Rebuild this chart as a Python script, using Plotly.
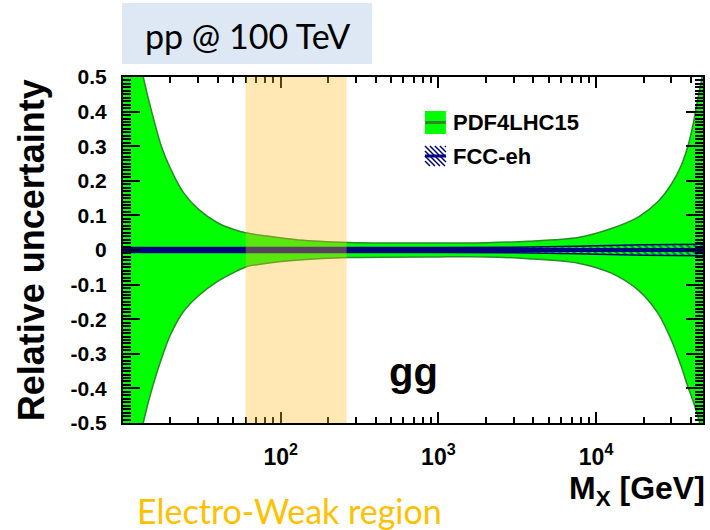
import plotly.graph_objects as go

# ---------------- data ----------------
mass = [10, 11.5, 12.5, 13.6, 15.3, 17.5, 20, 24, 30, 40, 50, 60, 80, 130, 270, 1000, 2000,
        3700, 7700, 12500, 18500, 24700, 30000, 34700, 38200, 41100, 44300, 47000, 50000]
pdf_up = [0.85, 0.66, 0.575, 0.49, 0.395, 0.30, 0.235, 0.168, 0.118, 0.078,
          0.060, 0.050, 0.041, 0.029, 0.022, 0.020, 0.021, 0.025, 0.036, 0.062,
          0.095, 0.14, 0.19, 0.245, 0.30, 0.36, 0.44, 0.50, 0.58]
pdf_lo = [-0.85, -0.66, -0.575, -0.49, -0.40, -0.315, -0.245, -0.180, -0.133, -0.090,
          -0.066, -0.049, -0.039, -0.029, -0.022, -0.020, -0.020, -0.025, -0.038, -0.067,
          -0.116, -0.183, -0.26, -0.337, -0.395, -0.435, -0.482, -0.53, -0.60]

fcc_mass = [10, 100, 1000, 3000, 6000, 10000, 20000, 50000]
fcc_err = [0.007, 0.007, 0.007, 0.008, 0.010, 0.012, 0.015, 0.017]
fcc_central = [0.0, 0.0, 0.0, 0.0, 0.0, 0.0, 0.0, 0.0]

ew_region = [60, 262]

x_tickvals = [100, 1000, 10000]
x_ticktext = ["10<sup>2</sup>", "10<sup>3</sup>", "10<sup>4</sup>"]
x_minor = [20, 30, 40, 50, 60, 70, 80, 90,
           200, 300, 400, 500, 600, 700, 800, 900,
           2000, 3000, 4000, 5000, 6000, 7000, 8000, 9000,
           20000, 30000, 40000]
y_tickvals = [0.5, 0.4, 0.3, 0.2, 0.1, 0.0, -0.1, -0.2, -0.3, -0.4, -0.5]
y_ticktext = ["0.5", "0.4", "0.3", "0.2", "0.1", "0", "-0.1", "-0.2", "-0.3", "-0.4", "-0.5"]

# ---------------- style ----------------
GREEN = "#00FF00"
DKGREEN = "#2A8A2A"
NAVY = "#000080"
ARIAL = "Liberation Sans, Arial, sans-serif"
CALIBRI = "Lato, Carlito, sans-serif"

L, R, T, B = 123, 705, 77, 423


def px(x):
    return (x - L) / (R - L)


def py(y):
    return (B - y) / (B - T)


fcc_up = [e for e in fcc_err]
fcc_dn = [-e for e in fcc_err]

fig = go.Figure()
fig.add_trace(go.Scatter(x=mass, y=pdf_lo, mode="lines", line=dict(color=DKGREEN, width=1.5, shape="spline", smoothing=0.8),
                         showlegend=False, hoverinfo="skip"))
fig.add_trace(go.Scatter(x=mass, y=pdf_up, mode="lines", fill="tonexty", fillcolor=GREEN,
                         line=dict(color=DKGREEN, width=1.5, shape="spline", smoothing=0.8), name="PDF4LHC15"))
fig.add_trace(go.Scatter(x=fcc_mass, y=fcc_dn, mode="lines", line=dict(color=NAVY, width=1.5, shape="spline"),
                         showlegend=False, hoverinfo="skip"))
fig.add_trace(go.Scatter(x=fcc_mass, y=fcc_up, mode="lines", fill="tonexty", fillcolor="rgba(0,0,0,0)",
                         fillpattern=dict(shape="\\", fgcolor=NAVY, bgcolor="rgba(0,0,0,0)", size=5, solidity=0.45),
                         line=dict(color=NAVY, width=1.5, shape="spline"), name="FCC-eh"))
fig.add_trace(go.Scatter(x=fcc_mass, y=fcc_central, mode="lines", line=dict(color=NAVY, width=4),
                         showlegend=False, hoverinfo="skip"))

shapes = []
# Electro-weak region
shapes.append(dict(type="rect", xref="x", yref="paper", x0=ew_region[0], x1=ew_region[1], y0=0, y1=1,
                   fillcolor="rgba(255,190,40,0.35)", line=dict(width=0), layer="above"))
# title box
shapes.append(dict(type="rect", xref="paper", yref="paper", x0=px(122), x1=px(373), y0=py(64), y1=py(3),
                   fillcolor="#DEE8F4", line=dict(width=0), layer="below"))
# legend: PDF4LHC15 box
shapes.append(dict(type="rect", xref="paper", yref="paper", x0=px(426), x1=px(447), y0=py(134), y1=py(111),
                   fillcolor=GREEN, line=dict(width=0)))
shapes.append(dict(type="line", xref="paper", yref="paper", x0=px(426), x1=px(447), y0=py(122.5), y1=py(122.5),
                   line=dict(color=DKGREEN, width=3)))
# legend: FCC-eh hatched box
bx0, bx1, by0, by1 = 426, 447, 146, 166
for k in range(-20, 22, 5):
    xa, ya = bx0 + k, by0
    xb, yb = bx0 + k + (by1 - by0), by1
    if xa < bx0:
        ya = ya + (bx0 - xa)
        xa = bx0
    if xb > bx1:
        yb = yb - (xb - bx1)
        xb = bx1
    if xb > xa:
        shapes.append(dict(type="line", xref="paper", yref="paper", x0=px(xa), x1=px(xb), y0=py(ya), y1=py(yb),
                           line=dict(color=NAVY, width=1.5)))
shapes.append(dict(type="line", xref="paper", yref="paper", x0=px(426), x1=px(447), y0=py(156), y1=py(156),
                   line=dict(color=NAVY, width=3)))

annotations = [
    dict(text="pp @ 100 TeV", xref="paper", yref="paper", x=px(247.5), y=py(35), showarrow=False,
         xanchor="center", yanchor="middle", font=dict(family=CALIBRI, size=34, color="black")),
    dict(text="Electro-Weak region", xref="paper", yref="paper", x=px(290), y=py(510), showarrow=False,
         xanchor="center", yanchor="middle", font=dict(family=CALIBRI, size=34, color="#FFC000")),
    dict(text="M<sub>X</sub> [GeV]", xref="paper", yref="paper", x=px(709), y=py(490), showarrow=False,
         xanchor="right", yanchor="middle", font=dict(family=ARIAL, size=32, color="black", weight="bold")),
    dict(text="Relative uncertainty", xref="paper", yref="paper", x=px(31), y=0.5, showarrow=False,
         textangle=-90, xanchor="center", yanchor="middle",
         font=dict(family=ARIAL, size=36, color="black", weight="bold")),
    dict(text="gg", xref="paper", yref="paper", x=px(415), y=py(372), showarrow=False,
         xanchor="center", yanchor="middle", font=dict(family=ARIAL, size=40, color="black", weight="bold")),
    dict(text="PDF4LHC15", xref="paper", yref="paper", x=px(452), y=py(122.5), showarrow=False,
         xanchor="left", yanchor="middle", font=dict(family=ARIAL, size=22, color="black", weight="bold")),
    dict(text="FCC-eh", xref="paper", yref="paper", x=px(452), y=py(156), showarrow=False,
         xanchor="left", yanchor="middle", font=dict(family=ARIAL, size=22, color="black", weight="bold")),
]

fig.update_layout(
    width=710, height=530,
    margin=dict(l=L, r=710 - R, t=T, b=530 - B),
    plot_bgcolor="white", paper_bgcolor="white",
    showlegend=False,
    shapes=shapes, annotations=annotations,
)
fig.update_xaxes(
    type="log", range=[1, 4.678],
    showline=True, linecolor="black", linewidth=2, mirror="ticks",
    ticks="inside", ticklen=11, tickwidth=2, tickcolor="black",
    tickvals=x_tickvals, ticktext=x_ticktext,
    tickfont=dict(family=ARIAL, size=23, color="black", weight="bold"),
    ticklabelstandoff=12,
    showgrid=False, zeroline=False,
    minor=dict(tickvals=x_minor, ticks="inside", ticklen=6, tickwidth=1.5, tickcolor="black", showgrid=False),
)
fig.update_yaxes(
    range=[-0.5, 0.5],
    showline=True, linecolor="black", linewidth=2, mirror="ticks",
    ticks="inside", ticklen=17, tickwidth=2, tickcolor="black",
    tickvals=y_tickvals, ticktext=y_ticktext,
    tickfont=dict(family=ARIAL, size=21, color="black", weight="bold"),
    ticklabelstandoff=10,
    showgrid=False, zeroline=False,
    minor=dict(dtick=0.01, tick0=0, ticks="inside", ticklen=8, tickwidth=1.5, tickcolor="black", showgrid=False),
)

fig.write_html("out.html", config={"displayModeBar": False},
               post_script="document.body.style.margin='0';document.body.style.padding='0';")
